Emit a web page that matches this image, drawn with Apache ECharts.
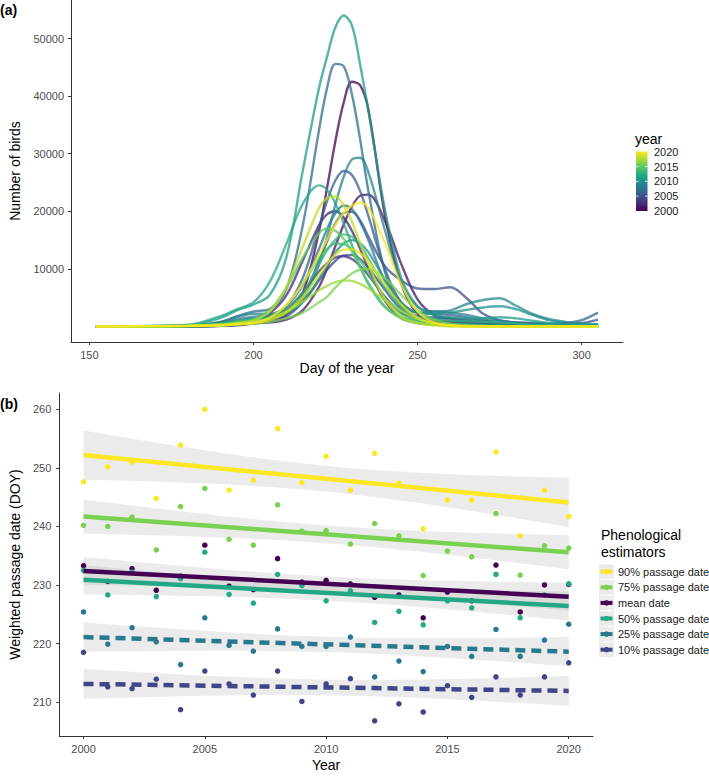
<!DOCTYPE html>
<html><head><meta charset="utf-8">
<script src="https://cdn.jsdelivr.net/npm/echarts@6/dist/echarts.min.js"></script>
<style>html,body{margin:0;padding:0;background:#fff}#c{width:709px;height:776px}</style>
</head><body><div id="c"></div>
<script>
// ---------- Panel (a): number of birds per day, one curve per year (values in thousands) ----------
const days = [152,180,190,195,200,205,210,215,220,222.5,225,227.5,230,232.5,235,240,245,250,255,260,265,270,275,280,285,290,295,300,305];
const birdsK2000 = [0,0,0.2,0.4,0.6,1.0,2.0,5.8,16.6,24.3,32.3,38.9,42.5,41.9,37.7,19.5,7.5,2.2,1.0,0.6,0.4,0.2,0.1,0.1,0,0,0,0,0];
const birdsK2001 = [0,0,0.1,0.3,0.6,0.7,1.2,2.8,6.9,10.2,14.0,17.7,20.8,22.7,22.9,18.4,10.9,4.7,2.0,1.4,1.0,0.6,0.3,0.2,0.1,0.1,0,0,0];
const birdsK2002 = [0,0,0.2,0.5,1.0,2.3,5.4,11.4,17.6,19.5,20.0,18.9,16.6,13.5,10.1,4.5,1.5,0.6,0.4,0.3,0.2,0.1,0.1,0,0,0,0,0,0];
const birdsK2003 = [0,0,0.1,0.3,0.6,1.3,2.9,5.9,9.6,11.0,12.0,12.2,11.7,10.5,8.9,5.2,2.4,1.4,1.0,0.8,0.6,0.4,0.2,0.1,0,0,0,0,0];
const birdsK2004 = [0,0,0.1,0.2,0.5,0.8,1.7,4.2,8.0,9.9,11.4,12.35,12.4,11.7,10.2,6.4,3.0,1.7,1.4,1.0,0.7,0.5,0.3,0.2,0.1,0.1,0,0,0];
const birdsK2005 = [0,0,0.2,0.5,1.0,1.2,2.2,5.2,11.4,14.9,17.9,19.7,19.9,18.4,15.6,10.5,8.0,6.6,6.5,6.8,4.9,2.2,1.1,0.7,0.5,0.4,0.4,0.6,1.2];
const birdsK2006 = [0,0,0.2,0.6,1.2,1.7,3.5,8.4,17.3,21.9,25.4,27.0,26.3,23.5,19.2,10.0,4.2,2.4,2.2,2.0,1.6,1.0,0.6,0.4,0.3,0.2,0.1,0.1,0.1];
const birdsK2007 = [0,0.1,0.8,1.8,2.6,3.0,6.5,17.5,34.2,41.6,45.6,45.2,40.3,32.5,23.6,9.6,3.4,1.8,1.6,1.4,1.2,1.0,0.8,0.7,0.6,0.5,0.6,1.1,2.4];
const birdsK2008 = [0,0.1,0.6,1.2,1.7,2.0,3.4,7.2,13.5,17.0,19.7,21.0,20.4,18.2,15.0,7.9,3.6,2.4,2.6,2.4,2.0,1.4,1.0,0.6,0.4,0.3,0.2,0.2,0.2];
const birdsK2009 = [0,0.1,0.8,1.6,2.2,2.2,2.6,4.6,10.8,15.7,21.2,26.0,29.0,29.3,26.8,16.8,7.6,3.4,2.6,2.8,3.9,4.6,4.9,3.6,2.2,1.3,0.8,0.5,0.4];
const birdsK2010 = [0,0.1,0.5,1.0,1.4,1.5,2.2,4.2,8.3,10.6,12.9,14.4,15.0,14.4,12.9,8.2,4.2,2.4,2.2,2.4,2.9,3.3,3.5,3.0,2.0,1.1,0.6,0.4,0.3];
const birdsK2011 = [0,0.2,1.5,2.8,3.8,5.5,12.0,27.0,41.5,47.0,52.0,54.0,52.3,45.5,37.5,20.5,8.5,3.5,2.0,1.6,1.4,1.4,1.6,1.4,1.0,0.6,0.3,0.2,0.2];
const birdsK2012 = [0,0.3,1.8,3.0,4.2,7.8,14.3,21.3,24.5,23.7,21.3,17.9,14.1,10.3,7.4,3.4,1.6,1.0,0.7,0.5,0.4,0.3,0.2,0.1,0.1,0.1,0,0,0];
const birdsK2013 = [0,0.1,0.5,0.9,1.2,1.5,2.8,5.8,10.8,13.3,15.1,16.0,15.6,14.1,11.8,6.8,3.2,1.6,1.2,1.0,0.9,0.8,0.7,0.5,0.3,0.2,0.1,0.1,0.1];
const birdsK2014 = [0,0.1,0.3,0.6,0.9,1.6,3.6,7.4,11.9,13.5,14.4,14.3,13.3,11.5,9.3,5.0,2.2,0.9,0.4,0.2,0.1,0.1,0,0,0,0,0,0,0];
const birdsK2015 = [0,0.1,0.4,0.7,1.2,2.9,6.7,11.9,16.2,17.0,16.6,15.2,13.0,10.3,7.6,3.5,1.4,0.6,0.3,0.2,0.1,0,0,0,0,0,0,0,0];
const birdsK2016 = [0,0,0.1,0.3,0.5,0.8,1.4,2.4,4.2,5.2,6.8,8.1,9.2,9.9,10.0,8.4,5.5,2.8,1.2,0.5,0.2,0.1,0,0,0,0,0,0,0];
const birdsK2017 = [0,0.1,0.3,0.5,0.8,1.4,2.6,4.3,6.3,7.1,7.7,8.0,7.9,7.4,6.6,4.6,2.7,1.3,0.5,0.2,0,0,0,0,0,0,0,0,0];
const birdsK2018 = [0,0.1,0.3,0.6,1.0,2.6,6.8,13.8,20.6,22.3,22.6,21.0,18.2,14.5,10.8,4.8,1.7,0.6,0.2,0,0,0,0,0,0,0,0,0,0];
const birdsK2019 = [0,0.1,0.2,0.4,0.6,1.1,2.4,5.1,9.0,10.9,12.5,13.35,13.4,12.7,11.3,7.4,3.8,1.5,0.5,0.2,0,0,0,0,0,0,0,0,0];
const birdsK2020 = [0,0.1,0.2,0.4,0.6,1.5,3.7,7.4,12.5,15.2,17.7,19.7,21.0,21.5,20.6,14.6,7.3,2.6,0.7,0.2,0,0,0,0,0,0,0,0,0];
const curveYears = [2000,2001,2002,2003,2004,2005,2006,2007,2008,2009,2010,2011,2012,2013,2014,2015,2016,2017,2018,2019,2020];
const curveList = [birdsK2000,birdsK2001,birdsK2002,birdsK2003,birdsK2004,birdsK2005,birdsK2006,birdsK2007,birdsK2008,birdsK2009,birdsK2010,birdsK2011,birdsK2012,birdsK2013,birdsK2014,birdsK2015,birdsK2016,birdsK2017,birdsK2018,birdsK2019,birdsK2020];
const tickDay = [150,200,250,300];
const tickBirds = [10000,20000,30000,40000,50000];
const colorbarTicks = [2000,2005,2010,2015,2020];

// ---------- Panel (b): weighted passage dates ----------
const years = [2000,2001,2002,2003,2004,2005,2006,2007,2008,2009,2010,2011,2012,2013,2014,2015,2016,2017,2018,2019,2020];
const p90   = [247.6,250.2,251.0,244.8,253.9,260.0,246.2,247.9,256.7,247.5,252.0,246.2,252.5,247.4,239.6,244.5,244.5,252.7,238.4,246.2,241.7];
const p75   = [240.2,240.0,241.6,236.0,243.4,246.5,237.8,236.8,243.7,239.2,239.3,237.0,240.5,238.4,231.6,235.8,234.8,242.2,231.7,236.7,236.3];
const pMean = [233.3,230.6,232.8,229.1,231.5,236.8,229.8,229.2,234.5,230.5,230.8,230.2,227.9,228.3,224.4,228.8,227.3,233.4,225.4,230.0,230.1];
const p50   = [232.5,228.3,232.2,228.0,231.1,235.6,228.4,226.9,231.8,229.9,227.3,229.0,223.6,225.5,223.2,227.3,226.1,231.8,224.4,228.3,230.2];
const p25   = [225.4,219.9,222.7,220.3,216.4,224.4,219.7,218.7,222.5,219.5,219.5,221.1,214.3,217.0,215.2,219.5,217.8,222.4,217.8,220.6,223.3];
const p10   = [218.5,212.6,212.3,213.9,208.7,215.3,213.1,211.2,215.3,210.1,213.1,214.0,206.8,209.7,208.3,212.8,210.8,214.3,211.2,214.3,216.7];
const fitYears = [2000,2020];
const fit90 = [252.2,244.1];
const fit75 = [241.7,235.6];
const fitMean = [232.4,228.0];
const fit50 = [230.9,226.4];
const fit25 = [221.1,218.6];
const fit10 = [213.1,211.9];
const bandYears = [2000,2002,2004,2006,2008,2010,2012,2014,2016,2018,2020];
const lo90 = [248.0,247.79,247.52,247.16,246.67,245.97,245.05,243.92,242.66,241.31,239.9];
const hi90 = [256.4,254.99,253.64,252.38,251.25,250.33,249.63,249.14,248.78,248.51,248.3];
const lo75 = [238.8,238.6,238.37,238.07,237.68,237.15,236.46,235.63,234.71,233.72,232.7];
const hi75 = [244.6,243.58,242.59,241.67,240.84,240.15,239.62,239.23,238.93,238.7,238.5];
const loMean = [230.0,229.9,229.77,229.59,229.33,228.96,228.45,227.83,227.13,226.38,225.6];
const hiMean = [234.8,234.02,233.27,232.57,231.95,231.44,231.07,230.81,230.63,230.5,230.4];
const lo50 = [228.4,228.3,228.18,228.0,227.74,227.35,226.84,226.2,225.48,224.7,223.9];
const hi50 = [233.4,232.6,231.82,231.1,230.46,229.95,229.56,229.3,229.12,229.0,228.9];
const lo25 = [218.6,218.7,218.78,218.8,218.74,218.55,218.24,217.8,217.28,216.7,216.1];
const hi25 = [223.6,223.0,222.42,221.9,221.46,221.15,220.96,220.9,220.92,221.0,221.1];
const lo10 = [210.55,210.79,211.0,211.16,211.23,211.18,210.99,210.68,210.28,209.83,209.35];
const hi10 = [215.65,215.17,214.72,214.32,214.01,213.82,213.77,213.84,214.0,214.21,214.45];
const estimatorNames = ['90% passage date','75% passage date','mean date','50% passage date','25% passage date','10% passage date'];
const tickYear = [2000,2005,2010,2015,2020];
const tickDOY = [210,220,230,240,250,260];

// ---------- styles ----------
const viridis21 = ['#440154','#471365','#482475','#463480','#414487','#3b528b','#355f8d','#2f6c8e','#2a788e','#25848e','#21918c','#1e9c89','#22a884','#2fb47c','#44bf70','#5ec962','#7ad151','#9bd93c','#bddf26','#dfe318','#fde725'];
const estColors = ['#fde725','#7ad151','#440154','#22a884','#2a788e','#414487'];
const estDashed = [false,false,false,false,true,true];
const FONT = 'Liberation Sans, Arial, Helvetica, sans-serif';

const chart = echarts.init(document.getElementById('c'), null, {renderer:'svg', width:709, height:776});

function axisCommon(ticks) {
  return {
    axisLine:{show:true, onZero:false, lineStyle:{color:'#333', width:1}},
    axisTick:{show:true, length:3, customValues:ticks, lineStyle:{color:'#333', width:1}},
    axisLabel:{customValues:ticks, color:'#4d4d4d', fontSize:11, fontFamily:FONT, formatter:(v)=>String(v)},
    splitLine:{show:false}
  };
}

const series = [];
curveList.forEach((arr, k) => {
  series.push({
    type:'line', name:String(curveYears[k]), xAxisIndex:0, yAxisIndex:0,
    data: days.map((d,i)=>[d, arr[i]*1000]),
    smooth:0.35, symbol:'none', silent:true,
    lineStyle:{width:2.4, color:viridis21[k], opacity:0.75}
  });
});

const pts = [p90,p75,pMean,p50,p25,p10];
const fits = [fit90,fit75,fitMean,fit50,fit25,fit10];
const los = [lo90,lo75,loMean,lo50,lo25,lo10];
const his = [hi90,hi75,hiMean,hi50,hi25,hi10];

// confidence ribbons: one polygon per estimator, built from its lower/upper arrays
los.forEach((lo,k)=>{
  const hi = his[k];
  series.push({
    type:'custom', xAxisIndex:1, yAxisIndex:1, silent:true,
    data: bandYears.map((y,i)=>[y, lo[i], hi[i]]),
    encode:{x:0, y:[1,2]},
    renderItem:(params, api)=>{
      if (params.dataIndex !== 0) return null;
      const up = bandYears.map((y,i)=>api.coord([y, hi[i]]));
      const dn = bandYears.map((y,i)=>api.coord([y, lo[i]])).reverse();
      return {type:'polygon', shape:{points: up.concat(dn)}, style:{fill:'rgba(153,153,153,0.2)'}};
    }
  });
});
pts.forEach((p,k)=>{
  series.push({type:'scatter', name:estimatorNames[k], xAxisIndex:1, yAxisIndex:1, symbolSize:5.5, silent:true,
    data: years.map((y,i)=>[y,p[i]]), itemStyle:{color:estColors[k], opacity:1}});
});
fits.forEach((f,k)=>{
  series.push({type:'line', name:estimatorNames[k], xAxisIndex:1, yAxisIndex:1, symbol:'none', silent:true,
    data: fitYears.map((y,i)=>[y,f[i]]),
    lineStyle:{width:4.5, color:estColors[k], type: estDashed[k] ? [10,6] : 'solid', cap:'butt'}});
});

// ---------- legends drawn as graphics ----------
const graphic = [];
graphic.push({type:'text', x:635, y:139, style:{text:'year', fontSize:14, fontFamily:FONT, fill:'#000', align:'left', verticalAlign:'middle', textAlign:'left', textVerticalAlign:'middle'}});
graphic.push({type:'rect', shape:{x:636, y:151.5, width:11.5, height:59.5},
  style:{fill:{type:'linear', x:0, y:0, x2:0, y2:1, colorStops:[
    {offset:0, color:'#fde725'},{offset:0.125, color:'#addc30'},{offset:0.25, color:'#5ec962'},{offset:0.375, color:'#28ae80'},
    {offset:0.5, color:'#21918c'},{offset:0.625, color:'#2c728e'},{offset:0.75, color:'#3b528b'},{offset:0.875, color:'#472d7b'},{offset:1, color:'#440154'}]}}});
colorbarTicks.forEach((v)=>{
  const y = 152 + (2020 - v) / 20 * 58.8;
  graphic.push({type:'text', x:654, y:y, style:{text:String(v), fontSize:11, fontFamily:FONT, fill:'#1a1a1a', align:'left', verticalAlign:'middle', textAlign:'left', textVerticalAlign:'middle'}});
  if (v !== 2000 && v !== 2020) {
    graphic.push({type:'line', shape:{x1:636, y1:y, x2:638.5, y2:y}, style:{stroke:'#fff', lineWidth:0.8}});
    graphic.push({type:'line', shape:{x1:645, y1:y, x2:647.5, y2:y}, style:{stroke:'#fff', lineWidth:0.8}});
  }
});
graphic.push({type:'text', x:601, y:535, style:{text:'Phenological', fontSize:14, fontFamily:FONT, fill:'#000', align:'left', verticalAlign:'middle', textAlign:'left', textVerticalAlign:'middle'}});
graphic.push({type:'text', x:601, y:551.5, style:{text:'estimators', fontSize:14, fontFamily:FONT, fill:'#000', align:'left', verticalAlign:'middle', textAlign:'left', textVerticalAlign:'middle'}});
estimatorNames.forEach((nm,k)=>{
  const cy = 571.7 + k*15.6;
  graphic.push({type:'rect', shape:{x:599, y:cy-7.3, width:15, height:14.6}, style:{fill:'#ebebeb'}});
  graphic.push({type:'line', shape:{x1:600.5, y1:cy, x2:612.5, y2:cy}, style:{stroke:estColors[k], lineWidth:4}});
  graphic.push({type:'circle', shape:{cx:606.5, cy:cy, r:2.7}, style:{fill:estColors[k]}});
  graphic.push({type:'text', x:618, y:cy, style:{text:nm, fontSize:11, fontFamily:FONT, fill:'#1a1a1a', align:'left', verticalAlign:'middle', textAlign:'left', textVerticalAlign:'middle'}});
});

chart.setOption({
  animation:false,
  backgroundColor:'#fff',
  textStyle:{fontFamily:FONT},
  title:[
    {text:'(a)', left:0, top:3, padding:0, textStyle:{fontSize:14, fontWeight:'bold', color:'#000', fontFamily:FONT}},
    {text:'(b)', left:0, top:397, padding:0, textStyle:{fontSize:14, fontWeight:'bold', color:'#000', fontFamily:FONT}}
  ],
  grid:[
    {left:68, top:0, width:555, height:342},
    {left:56, top:393, width:537, height:343}
  ],
  xAxis:[
    Object.assign({type:'value', gridIndex:0, min:144.4, max:312.6, name:'Day of the year', nameLocation:'middle', nameGap:19,
      nameTextStyle:{fontSize:14, color:'#000', fontFamily:FONT}}, axisCommon(tickDay)),
    Object.assign({type:'value', gridIndex:1, min:1999, max:2021, name:'Year', nameLocation:'middle', nameGap:22,
      nameTextStyle:{fontSize:14, color:'#000', fontFamily:FONT}}, axisCommon(tickYear))
  ],
  yAxis:[
    Object.assign({type:'value', gridIndex:0, min:-2700, max:56700, name:'Number of birds', nameLocation:'middle', nameGap:49,
      nameTextStyle:{fontSize:14, color:'#000', fontFamily:FONT}}, axisCommon(tickBirds)),
    Object.assign({type:'value', gridIndex:1, min:204.2, max:262.8, name:'Weighted passage date (DOY)', nameLocation:'middle', nameGap:37,
      nameTextStyle:{fontSize:14, color:'#000', fontFamily:FONT}}, axisCommon(tickDOY))
  ],
  series: series,
  graphic: graphic
});
chart.setOption({
  xAxis:[{axisLabel:{margin:7}},{axisLabel:{margin:7}}],
  yAxis:[{axisLabel:{margin:7}},{axisLabel:{margin:8}}]
});
</script></body></html>
